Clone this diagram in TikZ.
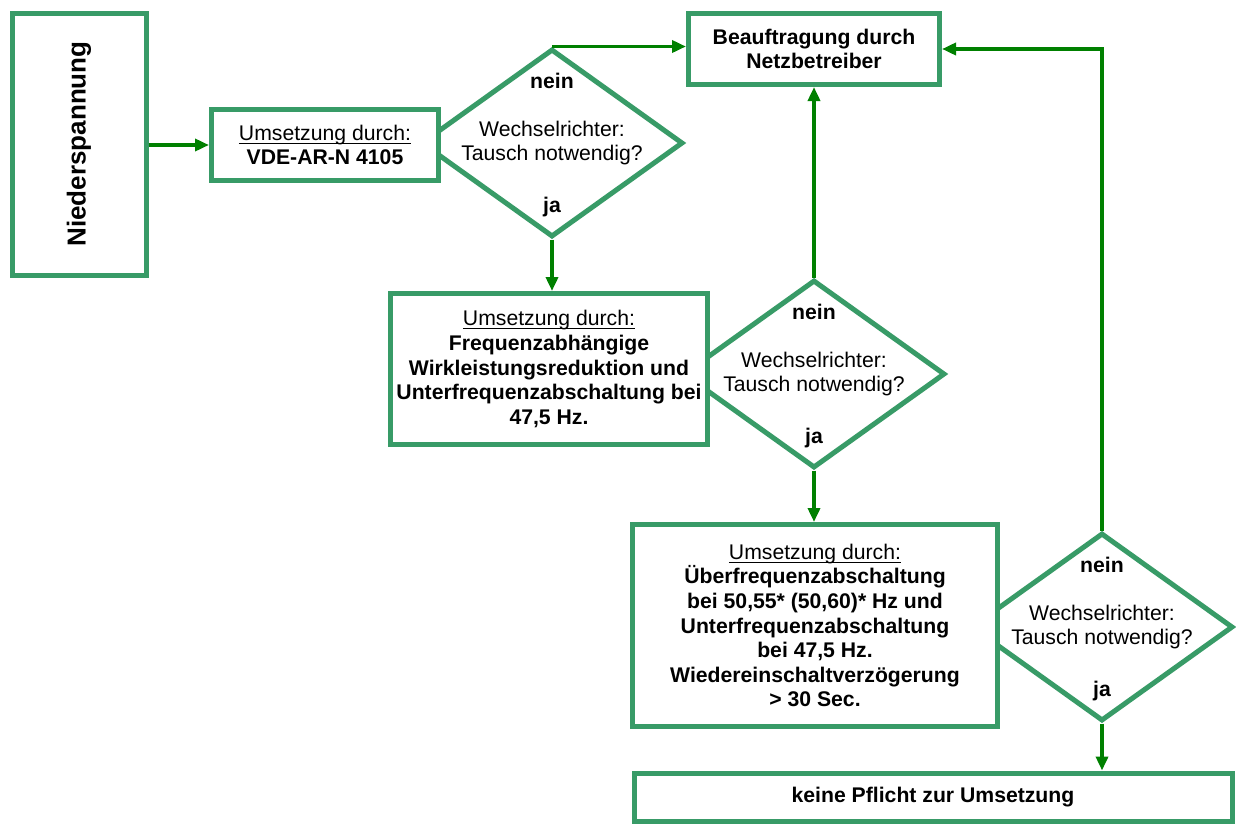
\documentclass[tikz,border=0pt]{standalone}
\usepackage{fontspec}
\setmainfont{Liberation Sans}
\usepackage{tikz}
\usetikzlibrary{arrows.meta,positioning,shapes.geometric}
\definecolor{boxgreen}{HTML}{389B67}
\definecolor{arrowgreen}{HTML}{008000}
\newcommand{\headline}[1]{{\mdseries\underline{\smash{#1}}\vphantom{#1}}}

\begin{document}
\begin{tikzpicture}[
        x=0.5pt,
        y=-0.5pt,
        every node/.style={font=\fontsize{10.6}{12.3}\selectfont},
        box/.style={draw=boxgreen, line width=2.5pt, fill=white, align=center, inner sep=0pt,
                    font=\fontsize{10.6}{12.3}\selectfont\bfseries},
        check/.style={diamond, draw=boxgreen, line width=2.5pt, fill=white, inner sep=0pt,
                      minimum width=131pt, minimum height=94pt},
        answer/.style={font=\fontsize{10.6}{12.3}\selectfont\bfseries},
        flow/.style={-{Triangle[length=7pt, width=6pt]}, line width=1.8pt, arrowgreen}
    ]
        \useasboundingbox (0,0) rectangle (1236,825);

        % decisions
        \node[check] (qone) at (552,143) {};
        \node[check] (qtwo) at (814,374) {};
        \node[check] (qthree) at (1102,627) {};

        \foreach \q in {qone,qtwo,qthree} {
            \node[answer] at ([yshift=-17pt]\q.north) {nein};
            \node[align=center] at (\q.center) {Wechselrichter:\\Tausch notwendig?};
            \node[answer] at ([yshift=16pt]\q.south) {ja};
        }

        % boxes
        \node[box, minimum width=67pt, minimum height=131pt] (nieder) at (79,144)
            {\rotatebox{90}{\fontsize{13}{15}\selectfont\bfseries Niederspannung}};
        \node[box, minimum width=113.5pt, minimum height=35.5pt] (vde) at (325,145)
            {\headline{Umsetzung durch:}\\VDE-AR-N 4105};
        \node[box, minimum width=125.5pt, minimum height=35.5pt] (netz) at (814,49)
            {Beauftragung durch\\Netzbetreiber};
        \node[box, minimum width=158.5pt, minimum height=75.5pt] (wirk) at (549,369)
            {\headline{Umsetzung durch:}\\Frequenzabhängige\\Wirkleistungsreduktion und\\
             Unterfrequenzabschaltung bei\\47,5 Hz.};
        \node[box, minimum width=182.5pt, minimum height=101pt] (ueber) at (815,625.5)
            {\headline{Umsetzung durch:}\\Überfrequenzabschaltung\\bei 50,55* (50,60)* Hz und\\
             Unterfrequenzabschaltung\\bei 47,5 Hz.\\Wiedereinschaltverzögerung\\> 30 Sec.};
        \node[box, minimum width=299pt, minimum height=24pt] (keine) at (933,797)
            {keine Pflicht zur Umsetzung};

        % connectors
        \draw[flow] (nieder.east |- vde.west) -- (vde.west);
        \draw[flow] (qone.north) -- (qone.north -| netz.west);
        \draw[flow] (qone.south) -- (qone.south |- wirk.north);
        \draw[flow] (qtwo.north) -- (qtwo.north |- netz.south);
        \draw[flow] (qtwo.south) -- (qtwo.south |- ueber.north);
        \draw[flow] (qthree.north) |- (netz.east);
        \draw[flow] (qthree.south) -- (qthree.south |- keine.north);
    \end{tikzpicture}
\end{document}
